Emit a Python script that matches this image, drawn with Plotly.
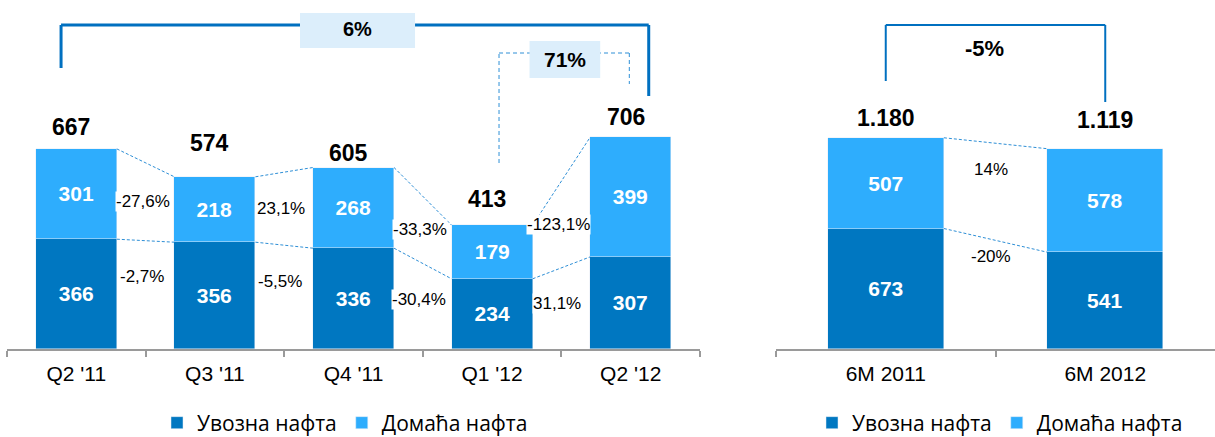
import plotly.graph_objects as go

# ---------------- data ----------------
quarters = ["Q2 '11", "Q3 '11", "Q4 '11", "Q1 '12", "Q2 '12"]
q_import = [366, 356, 336, 234, 307]
q_domestic = [301, 218, 268, 179, 399]
q_total = [667, 574, 605, 413, 706]
q_chg_domestic = ["-27,6%", "23,1%", "-33,3%", "-123,1%"]
q_chg_import = ["-2,7%", "-5,5%", "-30,4%", "31,1%"]

halves = ["6M 2011", "6M 2012"]
h_import = [673, 541]
h_domestic = [507, 578]
h_total = [1180, 1119]
h_chg_domestic = "14%"
h_chg_import = "-20%"

chg_q2_yoy = "6%"
chg_q2_qoq = "71%"
chg_6m_yoy = "-5%"

series_names = ["Увозна нафта", "Домаћа нафта"]

# ---------------- style / layout ----------------
W, H = 1215, 437
AXIS_PX = 349
L_PPU = 0.3      # pixels per unit, left chart
R_PPU = 0.179    # pixels per unit, right chart
C_DARK = "#0077C1"
C_LIGHT = "#2EADFD"
C_LINE = "#0070C0"
C_DASH = "#2E8FD6"
C_BOX = "#DCEEFB"
FONT = "Liberation Sans, Arial, sans-serif"
LBW = 0.585
RBW = 0.53


def ly(px):
    return (AXIS_PX - px) / L_PPU


def ry(px):
    return (AXIS_PX - px) / R_PPU


def fmt_thousands(v):
    return f"{v:,}".replace(",", ".")


fig = go.Figure()

seg_text = dict(textposition="inside", insidetextanchor="middle",
                textfont=dict(color="white", size=21, family=FONT),
                texttemplate="<b>%{y}</b>", cliponaxis=False, hoverinfo="skip")

fig.add_trace(go.Bar(x=quarters, y=q_import, name=series_names[0], marker_color=C_DARK,
                     width=LBW, xaxis="x", yaxis="y", legend="legend", **seg_text))
fig.add_trace(go.Bar(x=quarters, y=q_domestic, name=series_names[1], marker_color=C_LIGHT,
                     width=LBW, xaxis="x", yaxis="y", legend="legend", **seg_text))
fig.add_trace(go.Bar(x=halves, y=h_import, name=series_names[0], marker_color=C_DARK,
                     width=RBW, xaxis="x2", yaxis="y2", legend="legend2", **seg_text))
fig.add_trace(go.Bar(x=halves, y=h_domestic, name=series_names[1], marker_color=C_LIGHT,
                     width=RBW, xaxis="x2", yaxis="y2", legend="legend2", **seg_text))

shapes = []
annotations = []

# connectors between bars (left)
for i in range(len(quarters) - 1):
    for series in (q_total, q_import):
        shapes.append(dict(type="line", xref="x", yref="y",
                           x0=i + LBW / 2, y0=series[i], x1=i + 1 - LBW / 2, y1=series[i + 1],
                           line=dict(color=C_DASH, width=1, dash="3px,2px")))
# connectors (right)
for series in (h_total, h_import):
    shapes.append(dict(type="line", xref="x2", yref="y2",
                       x0=RBW / 2, y0=series[0], x1=1 - RBW / 2, y1=series[1],
                       line=dict(color=C_DASH, width=1, dash="3px,2px")))

# change labels (left) - centred in the gap between bars
for i in range(len(quarters) - 1):
    top_mid = (q_total[i] + q_total[i + 1]) / 2
    split_mid = (q_import[i] + q_import[i + 1]) / 2
    annotations.append(dict(xref="x", yref="y", x=i + 0.5, y=(top_mid + split_mid) / 2,
                            xshift=-3, text=q_chg_domestic[i], showarrow=False,
                            xanchor="center", yanchor="middle", bgcolor="white", borderpad=0,
                            font=dict(size=17, color="black", family=FONT)))
    annotations.append(dict(xref="x", yref="y", x=i + 0.5, y=split_mid - 120,
                            xshift=-4, text=q_chg_import[i], showarrow=False,
                            xanchor="center", yanchor="middle", bgcolor="white", borderpad=0,
                            font=dict(size=17, color="black", family=FONT)))
# change labels (right)
annotations.append(dict(xref="x2", yref="y2", x=0.48, y=(h_total[0] + h_total[1]) / 2 - 145,
                        text=h_chg_domestic, showarrow=False, bgcolor="white",
                        font=dict(size=17, color="black", family=FONT)))
annotations.append(dict(xref="x2", yref="y2", x=0.48, y=(h_import[0] + h_import[1]) / 2 - 93,
                        text=h_chg_import, showarrow=False, bgcolor="white",
                        font=dict(size=17, color="black", family=FONT)))

# totals
q_lift = [22, 34, 15, 26, 20]
for i, q in enumerate(quarters):
    annotations.append(dict(xref="x", yref="y", x=q, y=q_total[i], yshift=q_lift[i], xshift=-5,
                            text=f"<b>{q_total[i]}</b>", showarrow=False, yanchor="middle",
                            font=dict(size=23, color="black", family=FONT)))
h_lift = [20, 29]
for i, h in enumerate(halves):
    annotations.append(dict(xref="x2", yref="y2", x=h, y=h_total[i], yshift=h_lift[i],
                            text=f"<b>{fmt_thousands(h_total[i])}</b>", showarrow=False,
                            yanchor="middle", font=dict(size=23, color="black", family=FONT)))

# big bracket (left, solid)
bl, br = -0.11, 4.13
solid = dict(color=C_LINE, width=3)
shapes += [
    dict(type="line", xref="x", yref="y", x0=bl, x1=bl, y0=ly(68), y1=ly(25), line=solid),
    dict(type="line", xref="x", yref="y", x0=bl, x1=br, y0=ly(25), y1=ly(25), line=solid),
    dict(type="line", xref="x", yref="y", x0=br, x1=br, y0=ly(25), y1=ly(96), line=solid),
    dict(type="rect", xref="x", yref="y", x0=1.614, x1=2.444, y0=ly(48), y1=ly(13),
         fillcolor=C_BOX, line=dict(width=0)),
]
annotations.append(dict(xref="x", yref="y", x=2.03, y=ly(29), text=f"<b>{chg_q2_yoy}</b>",
                        showarrow=False, font=dict(size=20, color="black", family=FONT)))

# dashed bracket (Q1 '12 -> Q2 '12)
dl, dr = 3.05, 3.99
dashed = dict(color=C_DASH, width=1, dash="4px,3px")
shapes += [
    dict(type="line", xref="x", yref="y", x0=dl, x1=dl, y0=ly(163), y1=ly(53), line=dashed),
    dict(type="line", xref="x", yref="y", x0=dl, x1=dr, y0=ly(53), y1=ly(53), line=dashed),
    dict(type="line", xref="x", yref="y", x0=dr, x1=dr, y0=ly(53), y1=ly(84), line=dashed),
    dict(type="rect", xref="x", yref="y", x0=3.27, x1=3.78, y0=ly(78), y1=ly(41),
         fillcolor=C_BOX, line=dict(width=0)),
]
annotations.append(dict(xref="x", yref="y", x=3.525, y=ly(59), text=f"<b>{chg_q2_qoq}</b>",
                        showarrow=False, font=dict(size=21, color="black", family=FONT)))

# right bracket
rsolid = dict(color=C_LINE, width=2)
shapes += [
    dict(type="line", xref="x2", yref="y2", x0=0, x1=0, y0=ry(81), y1=ry(25), line=rsolid),
    dict(type="line", xref="x2", yref="y2", x0=0, x1=1, y0=ry(25), y1=ry(25), line=rsolid),
    dict(type="line", xref="x2", yref="y2", x0=1, x1=1, y0=ry(25), y1=ry(102), line=rsolid),
]
annotations.append(dict(xref="x2", yref="y2", x=0.45, y=ry(48), text=f"<b>{chg_6m_yoy}</b>",
                        showarrow=False, font=dict(size=22, color="black", family=FONT)))

xaxis_common = dict(showline=True, linecolor="#9A9A9A", linewidth=1.5, ticks="outside",
                    tickson="boundaries", ticklen=6, tickcolor="#9A9A9A", tickwidth=1.5,
                    ticklabelstandoff=5,
                    showgrid=False, zeroline=False, type="category",
                    tickfont=dict(size=21, color="black", family=FONT))
ydom = [(H - AXIS_PX) / H, 1.0]

legend_common = dict(orientation="h", xanchor="center", yanchor="middle",
                     y=(H - 423) / H, traceorder="normal",
                     font=dict(size=21, color="black", family="Open Sans, sans-serif"),
                     bgcolor="rgba(0,0,0,0)", itemclick=False, itemdoubleclick=False)

fig.update_layout(
    width=W, height=H, margin=dict(l=0, r=0, t=0, b=0, autoexpand=False),
    paper_bgcolor="white", plot_bgcolor="white",
    barmode="stack", bargap=0, showlegend=True,
    font=dict(family=FONT, color="black"),
    xaxis=dict(domain=[7 / W, 700 / W], range=[-0.5, 4.5], anchor="y", **xaxis_common),
    yaxis=dict(domain=ydom, range=[0, AXIS_PX / L_PPU], visible=False, anchor="x"),
    xaxis2=dict(domain=[776 / W, 1.0], range=[-0.5, 1.5], anchor="y2", **xaxis_common),
    yaxis2=dict(domain=ydom, range=[0, AXIS_PX / R_PPU], visible=False, anchor="x2"),
    legend=dict(x=345 / W, **legend_common),
    legend2=dict(x=1000 / W, **legend_common),
    shapes=shapes, annotations=annotations,
)

fig.write_html("out.html", config={"displayModeBar": False},
               post_script="document.body.style.margin='0';document.body.style.overflow='hidden';")
